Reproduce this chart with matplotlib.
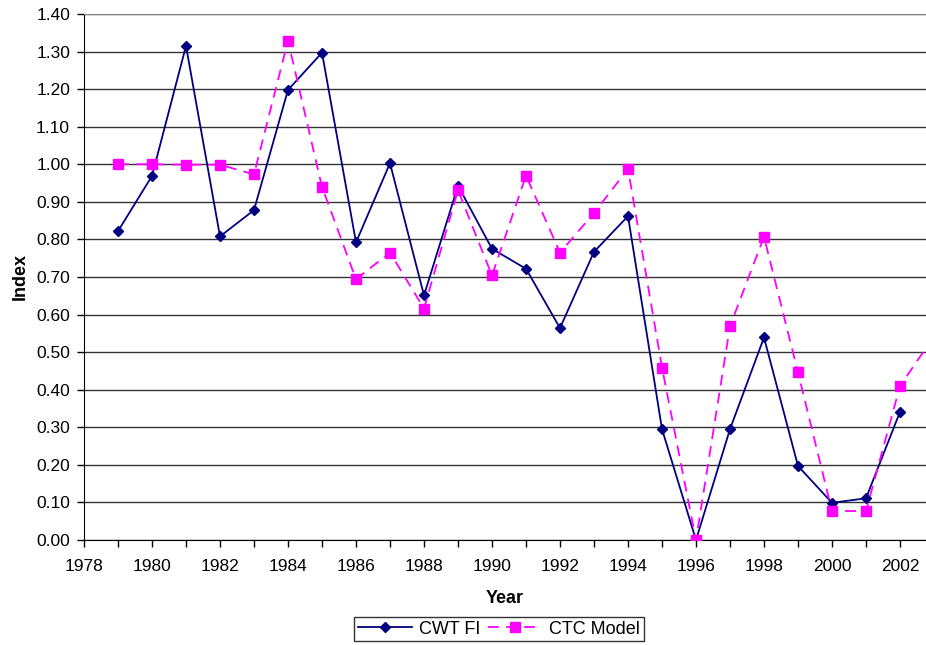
import matplotlib
matplotlib.use("Agg")
import matplotlib.pyplot as plt
from matplotlib.ticker import MultipleLocator, FormatStrFormatter

plt.rcParams["font.family"] = ["Liberation Sans", "DejaVu Sans"]

years_cwt = list(range(1979, 2003))
cwt_fi = [0.822, 0.969, 1.315, 0.808, 0.878, 1.198, 1.297, 0.792, 1.003, 0.651,
          0.943, 0.775, 0.722, 0.564, 0.767, 0.862, 0.295, 0.0, 0.295, 0.539,
          0.197, 0.099, 0.111, 0.341]

years_ctc = list(range(1979, 2004))
ctc_model = [1.000, 1.000, 0.999, 0.999, 0.973, 1.329, 0.940, 0.694, 0.765, 0.616,
             0.931, 0.704, 0.970, 0.765, 0.870, 0.988, 0.459, 0.0, 0.569, 0.807,
             0.446, 0.077, 0.077, 0.410, 0.542]

W, H = 926, 645
fig = plt.figure(figsize=(W / 100, H / 100), dpi=100)
ax = fig.add_axes([84 / W, 105 / H, 842 / W, 526 / H])

ax.plot(years_cwt, cwt_fi, color="#000080", marker="D", markersize=5, lw=1.3,
        label="CWT FI", zorder=3)
ax.plot(years_ctc, ctc_model, color="#FF00FF", marker="s", markersize=7, lw=1.3,
        ls=(0, (6, 4)), label="CTC Model", zorder=3)

ax.set_xlim(1978, 1978 + 842 / 34)
ax.set_ylim(0, 1.40)
ax.xaxis.set_major_locator(MultipleLocator(2))
ax.xaxis.set_minor_locator(MultipleLocator(1))
ax.yaxis.set_major_locator(MultipleLocator(0.1))
ax.yaxis.set_major_formatter(FormatStrFormatter("%.2f"))
ax.tick_params(axis="both", labelsize=12.5, direction="out", length=5, width=1, color="black")
ax.tick_params(axis="x", which="minor", length=5, width=1)
ax.tick_params(axis="x", pad=9)
ax.tick_params(axis="y", pad=5)

ax.grid(axis="y", color="black", lw=1, alpha=0.8)
ax.set_axisbelow(True)
ax.spines["right"].set_visible(False)
ax.spines["top"].set_color("#888888")
ax.spines["left"].set_color("black")
ax.spines["bottom"].set_color("black")

ax.set_xlabel("Year", fontsize=13, fontweight="bold", labelpad=11)
ax.set_ylabel("Index", fontsize=13, fontweight="bold", labelpad=5)

leg = fig.legend(loc="center", bbox_to_anchor=(499 / W, 16 / H), ncol=2, fontsize=13,
                 frameon=True, fancybox=False, edgecolor="black", handlelength=3,
                 borderpad=0.2, columnspacing=0.4, handletextpad=0.4)
leg.get_frame().set_linewidth(1)

fig.savefig("out.png", dpi=100)
